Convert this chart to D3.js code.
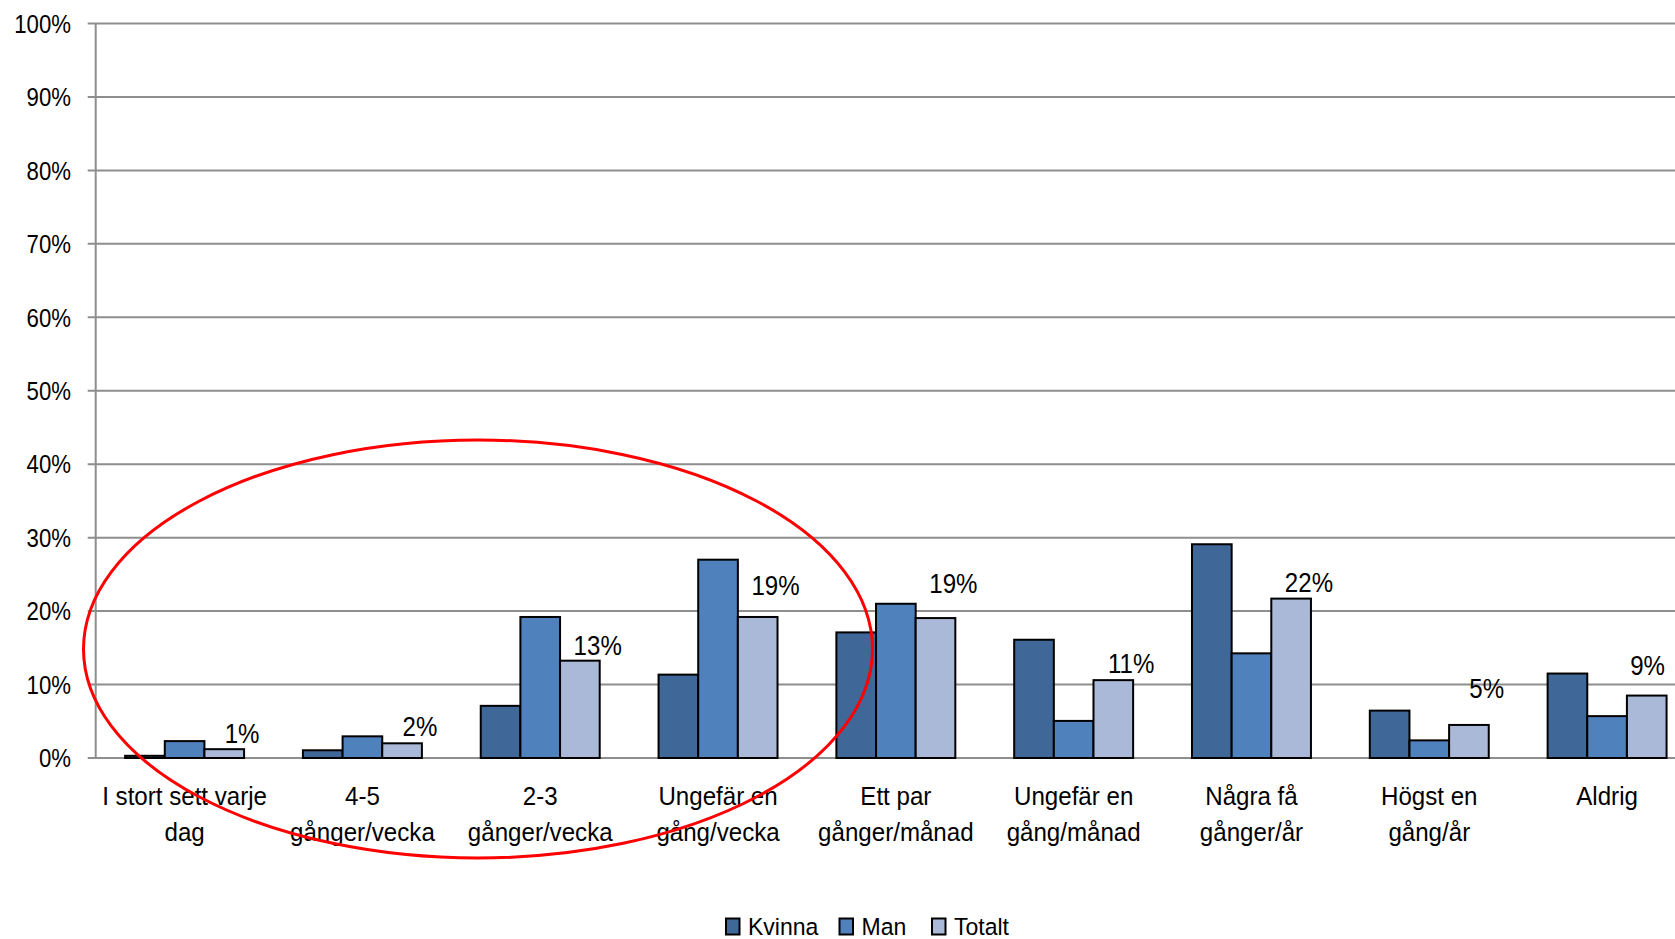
<!DOCTYPE html>
<html>
<head>
<meta charset="utf-8">
<script src="https://cdn.jsdelivr.net/npm/d3@7"></script>
<style>
  html, body { margin: 0; padding: 0; background: #ffffff; }
  svg { display: block; }
  text { font-family: "Liberation Sans", Arial, sans-serif; fill: #000; }
</style>
</head>
<body>
<svg id="chart" width="1675" height="939"></svg>
<script>
// ---- data ----
const categories = [
  ["I stort sett varje", "dag"],
  ["4-5", "gånger/vecka"],
  ["2-3", "gånger/vecka"],
  ["Ungefär en", "gång/vecka"],
  ["Ett par", "gånger/månad"],
  ["Ungefär en", "gång/månad"],
  ["Några få", "gånger/år"],
  ["Högst en", "gång/år"],
  ["Aldrig"]
];
const seriesNames = ["Kvinna", "Man", "Totalt"];
const kvinna = [0.3, 1.05, 7.1, 11.35, 17.1, 16.1, 29.1, 6.45, 11.5];
const man    = [2.3, 2.95, 19.2, 27.0, 21.0, 5.05, 14.25, 2.4, 5.7];
const totalt = [1.2, 2.0, 13.25, 19.2, 19.05, 10.6, 21.7, 4.5, 8.5];
const totalLabels = ["1%", "2%", "13%", "19%", "19%", "11%", "22%", "5%", "9%"];
// height (in %) at which each Totalt data label sits, as placed in the original
const totalLabelLevel = [3.4, 4.3, 15.4, 23.6, 23.8, 12.9, 24.0, 9.5, 12.7];
const yTicks = [0, 10, 20, 30, 40, 50, 60, 70, 80, 90, 100];
const colors = ["#3f6899", "#4f81bd", "#aab9d7"];

// ---- layout ----
const W = 1675;
const svg = d3.select("#chart");
const plotLeft = 95.7, plotRight = 1696, plotTop = 23.5, plotBottom = 758;

const x0 = d3.scaleBand()
  .domain(d3.range(categories.length))
  .range([plotLeft, plotRight])
  .padding(0);
const groupPad = 0.1655;
const x1 = d3.scaleBand()
  .domain(seriesNames)
  .range([x0.bandwidth() * groupPad, x0.bandwidth() * (1 - groupPad)])
  .padding(0);
const y = d3.scaleLinear().domain([0, 100]).range([plotBottom, plotTop]);

// condensed-looking text (the original uses a narrow face)
function narrowText(g, x, yy, str, size, sx, anchor) {
  return g.append("text")
    .attr("transform", `translate(${x},${yy}) scale(${sx},1)`)
    .attr("text-anchor", anchor)
    .attr("font-size", size)
    .text(str);
}

// gridlines
svg.append("g")
  .selectAll("line")
  .data(yTicks)
  .join("line")
  .attr("x1", plotLeft - 8)
  .attr("x2", plotRight)
  .attr("y1", d => y(d))
  .attr("y2", d => y(d))
  .attr("stroke", "#8e8e8e")
  .attr("stroke-width", 2);

// y axis line
svg.append("line")
  .attr("x1", plotLeft).attr("x2", plotLeft)
  .attr("y1", y(100)).attr("y2", y(0))
  .attr("stroke", "#8e8e8e").attr("stroke-width", 2);

// y tick labels
const yLab = svg.append("g");
yTicks.forEach(t => {
  narrowText(yLab, 71, y(t) + 9.2, t + "%", 25.5, 0.87, "end");
});

// bars
const seriesData = [kvinna, man, totalt];
const bars = [];
seriesData.forEach((arr, si) => {
  arr.forEach((v, ci) => bars.push({ ci, si, v }));
});
svg.append("g")
  .selectAll("rect")
  .data(bars)
  .join("rect")
  .attr("x", d => x0(d.ci) + x1(seriesNames[d.si]))
  .attr("width", x1.bandwidth())
  .attr("y", d => y(d.v))
  .attr("height", d => y(0) - y(d.v))
  .attr("fill", d => colors[d.si])
  .attr("stroke", "#000")
  .attr("stroke-width", 2);

// Totalt data labels
const dl = svg.append("g");
totalLabels.forEach((lab, i) => {
  const sx = 0.86;
  let cx = x0(i) + x1("Totalt") + x1.bandwidth() - 2;
  const t = narrowText(dl, 0, 0, lab, 28, sx, "middle");
  const w = t.node().getComputedTextLength() * sx;
  cx = Math.min(cx, W - 10 - w / 2);
  t.attr("transform", `translate(${cx},${y(totalLabelLevel[i]) + 10}) scale(${sx},1)`);
});

// category labels
const catG = svg.append("g");
categories.forEach((lines, i) => {
  const cx = x0(i) + x0.bandwidth() / 2;
  lines.forEach((ln, li) => {
    narrowText(catG, cx, 805 + li * 36, ln, 26.5, 0.91, "middle");
  });
});

// legend
const legendX = [726, 839.5, 932];
const leg = svg.append("g");
seriesNames.forEach((name, i) => {
  leg.append("rect")
    .attr("x", legendX[i]).attr("y", 918.5)
    .attr("width", 13.5).attr("height", 16)
    .attr("fill", colors[i]).attr("stroke", "#000").attr("stroke-width", 2);
  narrowText(leg, legendX[i] + 22, 934.5, name, 23.5, 0.98, "start");
});

// red ellipse annotation
svg.append("ellipse")
  .attr("cx", 478).attr("cy", 649)
  .attr("rx", 394.5).attr("ry", 209)
  .attr("fill", "none")
  .attr("stroke", "#ff0000")
  .attr("stroke-width", 3);
</script>
</body>
</html>
